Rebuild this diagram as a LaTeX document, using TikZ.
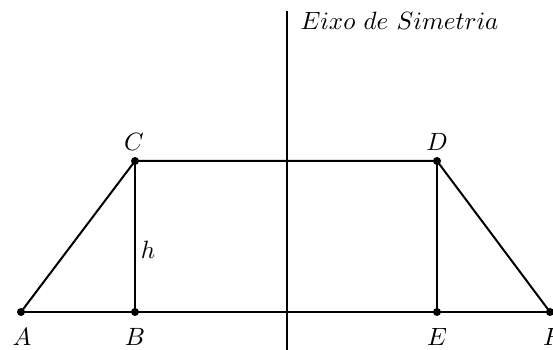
\documentclass[tikz,border=0pt]{standalone}
\begin{document}
\begin{tikzpicture}[x=0.4pt,y=-0.4pt,
  edge/.style={line width=0.8pt},
  pt/.style={circle,fill=black,inner sep=0pt,minimum size=3.2pt},
  lbl/.style={inner sep=0pt}]
\useasboundingbox (0,0) rectangle (553,350);
\node[pt] (A) at (21,312) {};
\node[pt] (B) at (135,312) {};
\node[pt] (C) at (135,161) {};
\node[pt] (D) at (437,161) {};
\node[pt] (E) at (437,312) {};
\node[pt] (F) at (550,312) {};
\coordinate (T) at (287,11);
\coordinate (U) at (287,352);
\draw[edge] (A.center) -- (F.center);
\draw[edge] (A.center) -- (C.center) -- (D.center) -- (F.center);
\draw[edge] (C.center) -- (B.center);
\draw[edge] (D.center) -- (E.center);
\draw[edge] (T) -- (U);
\node[lbl] (lA) at (22,337) {$A$};
\node[lbl] (lB) at (135,337) {$B$};
\node[lbl] (lE) at (437,337) {$E$};
\node[lbl] (lF) at (553,337) {$F$};
\node[lbl] (lC) at (134,142) {$C$};
\node[lbl] (lD) at (437,142) {$D$};
\node[lbl] (lh) at (148,250) {$h$};
\node[lbl,anchor=west] (ax) at (300,21) {$Eixo\ de\ Simetria$};
\end{tikzpicture}
\end{document}
